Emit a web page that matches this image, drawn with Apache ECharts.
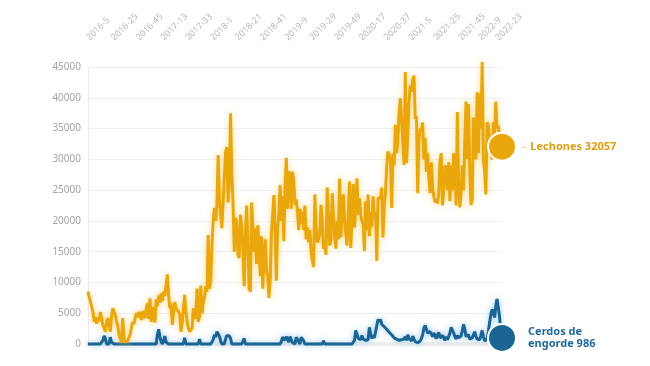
<!DOCTYPE html>
<html><head><meta charset="utf-8">
<script src="https://cdn.jsdelivr.net/npm/echarts@6/dist/echarts.min.js"></script>
<style>html,body{margin:0;padding:0;background:#fff}#c{width:650px;height:366px}</style>
</head><body><div id="c"></div>
<script>
// ISO-week ranges covered by the data (year, first week, last week)
const yearWeeks = [[2016,5,52],[2017,1,52],[2018,1,52],[2019,1,52],[2020,1,52],[2021,1,52],[2022,1,27]];
const weeks = [];
yearWeeks.forEach(([y,a,b]) => { for (let w = a; w <= b; w++) weeks.push(y + '-' + w); });

const tickLabels = ['2016-5','2016-25','2016-45','2017-13','2017-33','2018-1','2018-21','2018-41','2019-9','2019-29','2019-49','2020-17','2020-37','2021-5','2021-25','2021-45','2022-9','2022-23'];

const lechones = [
8500,7600,6900,6600,5200,3600,4400,3300,4200,3700,
5200,4300,3100,2600,2000,3600,4200,3200,2000,4500,
5800,6000,4700,3600,3000,1500,900,300,4200,1200,
300,0,500,400,1500,2600,3600,3200,4200,5000,
4300,5200,4800,3900,5300,5000,4200,5800,6600,4100,
7400,3600,6000,4900,3500,7200,6100,7900,6700,8200,
7000,8500,7800,9500,11300,8000,5800,6700,3100,3200,
6800,5800,6000,5300,4800,2000,3500,5800,8000,5200,
3600,2600,2000,1800,2600,5800,4100,4500,9000,3600,
4500,9500,5000,6800,7500,9400,8500,17700,9000,10000,
16000,20000,22100,20000,22500,30700,24000,21000,18800,23000,
27000,31200,32000,23000,26000,37500,28000,23000,15000,20500,
19500,14500,14000,21000,19000,15500,9400,18000,22500,16000,
9000,8500,23000,19000,15000,18800,13000,19300,15500,11000,
17500,9000,14000,17000,12000,11000,7500,10500,18000,21000,
24200,18000,10300,19000,21000,25800,20000,24000,16700,25500,
30200,22000,28000,27500,22000,28000,26500,22600,23500,21500,
18500,22000,19500,21500,18500,22500,17000,19000,16500,18500,
15000,13500,12500,24300,19000,16500,17000,18000,22600,20000,
15500,16000,14500,25400,21000,16000,17000,24500,21000,17500,
15500,20000,17000,26900,17300,21000,24300,20000,18000,16000,
15800,26400,15600,20500,26000,18900,22000,26900,21000,23700,
21000,20000,19500,15100,23200,18500,24300,17500,21500,19000,
24000,20500,21500,13500,23700,23500,23700,25400,17300,22500,
24500,29000,31300,31300,30000,22100,31000,29000,35600,31000,
33000,37500,39900,36500,33000,29100,44200,29400,34000,39500,
42000,41000,43000,43600,36500,37000,24500,33000,35000,34500,
36000,30000,33500,28000,31000,27000,24500,29500,25500,24000,
23000,23500,22800,24500,29900,31000,22500,25000,29000,28500,
25000,29500,23200,29000,25000,31000,29500,22500,37700,26000,
22200,24500,29000,25000,33000,39400,30000,39000,28000,22600,
23500,36800,32000,30000,40900,31000,40700,35000,45800,30000,
28000,24300,36000,35500,33000,31500,30000,36000,34000,39400,
35000,35500,33000,34500,32057
];

const cerdos = [
0,0,0,0,0,0,0,0,0,0,
0,0,600,1300,900,0,0,0,1100,300,
0,0,0,0,0,0,0,0,0,0,
0,0,0,0,0,0,0,0,0,0,
0,0,0,0,0,0,0,0,0,0,
0,0,0,0,0,0,1500,2400,1200,400,
0,500,1300,300,0,0,0,0,0,0,
0,0,0,0,0,0,0,0,1000,0,
0,0,0,0,0,0,0,0,0,0,
800,0,0,0,0,0,0,0,0,0,
0,700,1500,1100,2000,2300,1300,500,0,0,
0,800,1400,1200,1300,900,0,0,0,0,
0,0,0,0,0,0,900,0,0,0,
0,0,0,0,0,0,0,0,0,0,
0,0,0,0,0,0,0,0,0,0,
0,0,0,0,0,0,400,1100,1300,600,
1200,1000,300,1200,900,200,0,0,1100,1200,
400,0,1100,1300,500,0,0,0,0,0,
0,0,0,0,0,0,0,0,0,0,
500,0,0,0,0,0,0,0,0,0,
0,0,0,0,0,0,0,0,0,0,
0,0,0,0,0,600,2200,1600,900,1000,
700,1400,800,1100,600,400,700,2700,1700,900,
1400,1000,2000,3000,4000,3600,4000,3200,3500,2800,
3000,2400,2600,1900,2200,1500,1800,1000,1300,800,
1000,600,900,700,400,800,1200,600,1500,900,
700,500,1300,800,400,600,200,300,500,900,
1500,2600,3000,2400,1800,1500,2000,1600,1200,1800,
1300,900,1500,1900,1000,800,1400,1000,600,1200,
700,900,1800,2700,2200,1800,1200,800,1400,1000,
700,1300,2200,3200,2400,1200,900,1500,800,600,
1000,1500,2000,1200,800,1100,700,1400,2200,1200,
500,300,800,2000,3500,4800,5600,5200,4300,6200,
7300,7500,4500,2000,986
];

const ORANGE = '#E9A70D';
const BLUE = '#1B6595';
const FONT = '"Noto Sans", Lato, sans-serif';
const tickSet = new Set(tickLabels);
const last = weeks.length - 1;

const chart = echarts.init(document.getElementById('c'), null, {renderer: 'canvas'});
chart.setOption({
  animation: false,
  grid: {left: 88, right: 148, top: 67, bottom: 22},
  xAxis: {
    type: 'category', data: weeks, position: 'top', offset: 23, boundaryGap: false,
    axisLine: {lineStyle: {color: '#eeeeee', width: 4}},
    axisTick: {show: false},
    axisLabel: {interval: (i, v) => tickSet.has(v), rotate: 45, color: '#b8b8b8', fontSize: 9, fontFamily: FONT, margin: 5},
    splitLine: {show: false}
  },
  yAxis: {
    type: 'value', min: 0, max: 45000, interval: 5000,
    axisLine: {show: true, lineStyle: {color: '#ececec'}},
    axisTick: {show: false},
    axisLabel: {color: '#a5a5a5', fontSize: 10, fontFamily: FONT, margin: 7, formatter: v => String(v)},
    splitLine: {lineStyle: {color: '#efefef'}}
  },
  series: [
    {type: 'line', name: 'Cerdos de engorde', data: cerdos, showSymbol: false, clip: false, z: 2,
     lineStyle: {color: BLUE, width: 3, shadowBlur: 6, shadowColor: 'rgba(90,165,225,0.6)'}},
    {type: 'line', name: 'Lechones', data: lechones, showSymbol: false, clip: false, z: 3,
     lineStyle: {color: ORANGE, width: 3, shadowBlur: 6, shadowColor: 'rgba(245,200,80,0.7)'}},
    {type: 'scatter', silent: true, z: 5, data: [[weeks[last], lechones[last]]], symbolSize: 28,
     itemStyle: {color: ORANGE, opacity: 1, borderColor: '#fff', borderWidth: 2},
     label: {show: true, position: 'right', distance: 5,
       formatter: () => '{d|–} {t|Lechones ' + lechones[last] + '}',
       rich: {d: {color: '#f2c96a', fontSize: 10, fontFamily: FONT},
              t: {color: '#D9A017', fontSize: 11, fontWeight: 'bold', fontFamily: FONT}}}},
    {type: 'scatter', silent: true, z: 5, data: [[weeks[last], cerdos[last]]], symbolSize: 28,
     itemStyle: {color: BLUE, opacity: 1, borderColor: '#fff', borderWidth: 2},
     label: {show: true, position: 'right', distance: 11, align: 'left',
       formatter: () => 'Cerdos de\nengorde ' + cerdos[last],
       color: '#1F6A99', fontSize: 11, fontWeight: 'bold', fontFamily: FONT, lineHeight: 12}}
  ]
});
</script></body></html>
